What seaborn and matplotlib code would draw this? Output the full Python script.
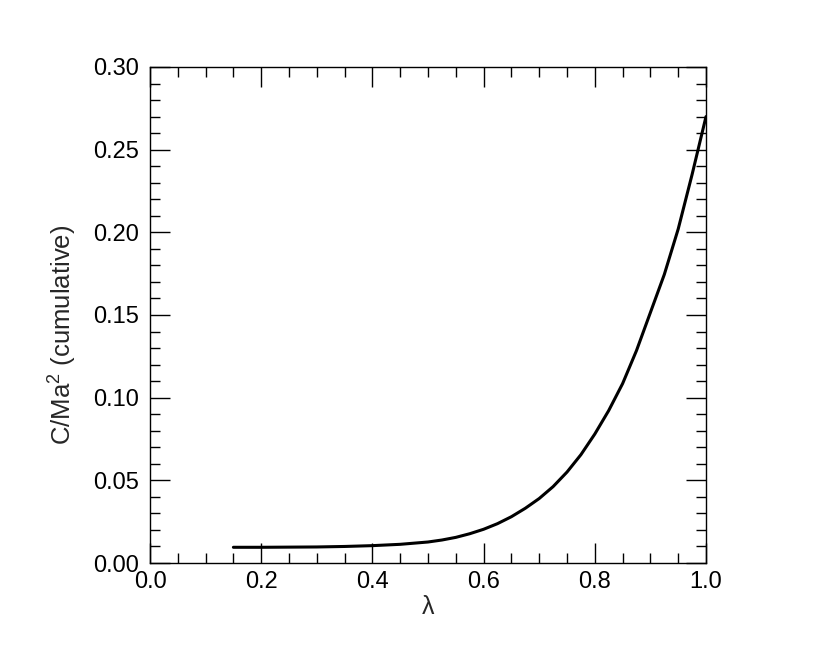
import matplotlib
matplotlib.use("Agg")
import matplotlib.pyplot as plt
import seaborn as sns
import pandas as pd
from matplotlib.ticker import MultipleLocator

# values
lam = [0.15, 0.20, 0.25, 0.30, 0.35, 0.40, 0.45, 0.500, 0.525, 0.550, 0.575,
       0.600, 0.625, 0.650, 0.675, 0.700, 0.725, 0.750, 0.775, 0.800, 0.825,
       0.850, 0.875, 0.900, 0.925, 0.950, 0.975, 1.000]
cum = [0.0095, 0.0095, 0.0096, 0.0097, 0.0100, 0.0105, 0.0113, 0.0127, 0.0139,
       0.0155, 0.0177, 0.0204, 0.0238, 0.0280, 0.0331, 0.0390, 0.0462, 0.0550,
       0.0655, 0.0780, 0.0922, 0.1085, 0.1285, 0.1515, 0.1745, 0.2020, 0.2350,
       0.2700]

df = pd.DataFrame({"lam": lam, "cum": cum})

sns.set_style("ticks")
plt.rcParams["font.family"] = ["Liberation Sans", "DejaVu Sans"]
plt.rcParams["mathtext.fontset"] = "custom"
plt.rcParams["mathtext.rm"] = "Liberation Sans"
plt.rcParams["mathtext.it"] = "Liberation Sans"

fig = plt.figure(figsize=(8.3, 6.64), dpi=100)
ax = fig.add_axes([150 / 830, 101 / 664, 556 / 830, 496 / 664])

sns.lineplot(data=df, x="lam", y="cum", ax=ax, color="black", linewidth=2.2)

ax.set_xlim(0, 1)
ax.set_ylim(0, 0.30)
ax.xaxis.set_major_locator(MultipleLocator(0.2))
ax.xaxis.set_minor_locator(MultipleLocator(0.05))
ax.yaxis.set_major_locator(MultipleLocator(0.05))
ax.yaxis.set_minor_locator(MultipleLocator(0.01))
ax.xaxis.set_major_formatter(lambda v, p: f"{v:.1f}")
ax.yaxis.set_major_formatter(lambda v, p: f"{v:.2f}")

ax.tick_params(which="both", direction="in", top=True, right=True,
               width=1.0, colors="black", labelsize=17)
ax.tick_params(which="major", length=14.5)
ax.tick_params(which="minor", length=7.2)
ax.tick_params(axis="x", which="major", pad=6)
ax.tick_params(axis="y", which="major", pad=8)

for s in ax.spines.values():
    s.set_linewidth(1.0)
    s.set_color("black")

ax.set_xlabel("λ", fontsize=18, labelpad=1)
ax.set_ylabel("C/Ma$^2$ (cumulative)", fontsize=18.5)
ax.yaxis.set_label_coords(-0.128, 0.46)

fig.savefig("out.png", dpi=100)
plt.close(fig)
